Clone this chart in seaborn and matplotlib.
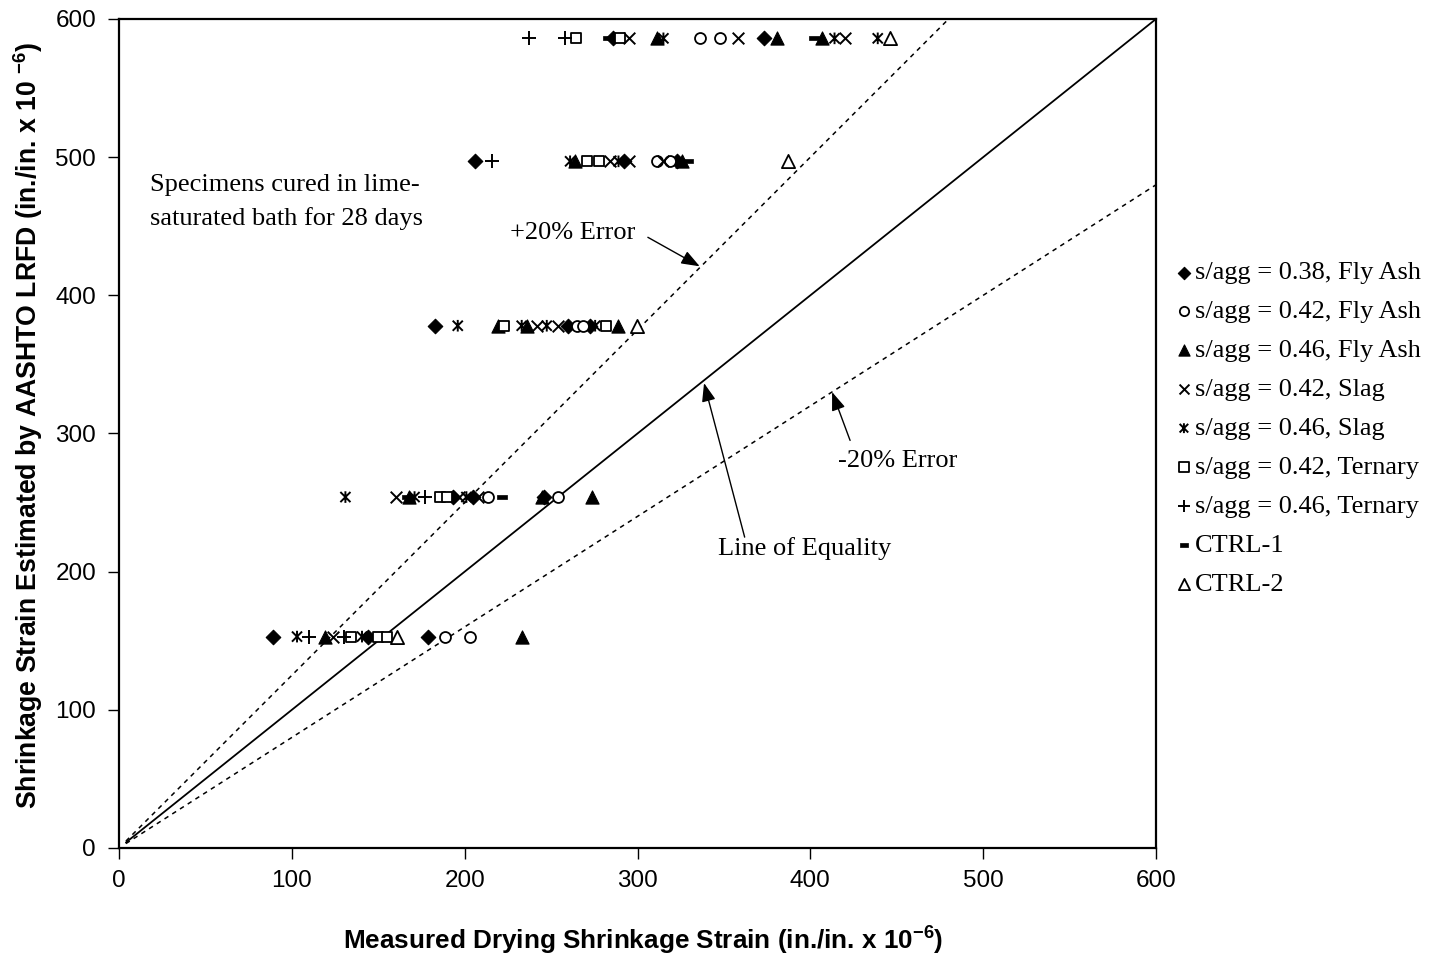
import matplotlib
matplotlib.use("Agg")
import matplotlib.pyplot as plt
from matplotlib.path import Path
import seaborn as sns

# AASHTO LRFD estimated strain levels (one per drying age)
lvl = [153, 254, 378, 497, 586]

# Measured drying shrinkage strain for each mixture group, with matching estimates
fa38_x = [89, 144, 179, 193, 205, 246, 183, 260, 272.6, 206, 292, 323, 286, 373]
fa38_y = [lvl[0]] * 3 + [lvl[1]] * 3 + [lvl[2]] * 3 + [lvl[3]] * 3 + [lvl[4]] * 2

fa42_x = [188.5, 203, 213.5, 254, 265, 268.7, 311, 319, 336, 348]
fa42_y = [lvl[0]] * 2 + [lvl[1]] * 2 + [lvl[2]] * 2 + [lvl[3]] * 2 + [lvl[4]] * 2

fa46_x = [119, 233, 168, 245, 273.5, 219, 236, 289, 264, 326, 311, 381, 407]
fa46_y = [lvl[0]] * 2 + [lvl[1]] * 3 + [lvl[2]] * 3 + [lvl[3]] * 2 + [lvl[4]] * 3

sl42_x = [124, 160, 197, 208, 241.7, 254, 284, 295, 315, 295, 358, 420]
sl42_y = [lvl[0]] * 1 + [lvl[1]] * 3 + [lvl[2]] * 2 + [lvl[3]] * 3 + [lvl[4]] * 3

sl46_x = [103, 140.6, 131, 171, 201, 196, 233, 247.5, 275.5, 261, 289, 315, 414, 439]
sl46_y = [lvl[0]] * 2 + [lvl[1]] * 3 + [lvl[2]] * 4 + [lvl[3]] * 2 + [lvl[4]] * 3

tr42_x = [134, 150, 155, 186, 190, 223, 282, 271, 278, 264.5, 290]
tr42_y = [lvl[0]] * 3 + [lvl[1]] * 2 + [lvl[2]] * 2 + [lvl[3]] * 2 + [lvl[4]] * 2

tr46_x = [110, 130, 177, 216, 237, 258]
tr46_y = [lvl[0]] * 2 + [lvl[1]] * 1 + [lvl[3]] * 1 + [lvl[4]] * 2

ctrl1_x = [166.5, 221.5, 329, 283, 402]
ctrl1_y = [lvl[1]] * 2 + [lvl[3]] * 1 + [lvl[4]] * 2

ctrl2_x = [161, 299.5, 387, 446]
ctrl2_y = [lvl[0], lvl[2], lvl[3], lvl[4]]

labels = [
    "s/agg = 0.38, Fly Ash",
    "s/agg = 0.42, Fly Ash",
    "s/agg = 0.46, Fly Ash",
    "s/agg = 0.42, Slag",
    "s/agg = 0.46, Slag",
    "s/agg = 0.42, Ternary",
    "s/agg = 0.46, Ternary",
    "CTRL-1",
    "CTRL-2",
]

# Reference lines: equality and +/-20 % error bands
line_x = [4, 600]
ratio_eq = 1.0
ratio_plus = 1.25
ratio_minus = 0.8

# Custom marker shapes: asterisk (x with vertical bar) and a short thick dash
star_path = Path(
    [(-1, -1), (1, 1), (-1, 1), (1, -1), (0, -1.15), (0, 1.15)],
    [Path.MOVETO, Path.LINETO, Path.MOVETO, Path.LINETO, Path.MOVETO, Path.LINETO],
)
dash_path = Path(
    [(-1, -0.35), (1, -0.35), (1, 0.35), (-1, 0.35), (-1, -0.35)],
    [Path.MOVETO, Path.LINETO, Path.LINETO, Path.LINETO, Path.CLOSEPOLY],
)

sns.set_theme(style="white")
plt.rcParams["font.family"] = ["Liberation Sans", "DejaVu Sans"]
plt.rcParams["mathtext.fontset"] = "custom"
plt.rcParams["mathtext.rm"] = "Liberation Sans"
plt.rcParams["mathtext.bf"] = "Liberation Sans:bold"
for key in ["text.color", "axes.labelcolor", "xtick.color", "ytick.color", "axes.edgecolor"]:
    plt.rcParams[key] = "black"

fig = plt.figure(figsize=(14.37, 9.56), dpi=100)
ax = fig.add_axes([119 / 1437, 108 / 956, 1037 / 1437, 829 / 956])

styles = [
    (fa38_x, fa38_y, dict(marker="D", s=55, facecolor="black", edgecolor="black", linewidth=0.8)),
    (fa42_x, fa42_y, dict(marker="o", s=62, facecolor="white", edgecolor="black", linewidth=1.3)),
    (fa46_x, fa46_y, dict(marker="^", s=90, facecolor="black", edgecolor="black", linewidth=0.8)),
    (sl42_x, sl42_y, dict(marker="x", s=70, color="black", linewidth=1.4)),
    (sl46_x, sl46_y, dict(marker=star_path, s=70, facecolor="none", edgecolor="black", linewidth=1.4)),
    (tr42_x, tr42_y, dict(marker="s", s=60, facecolor="white", edgecolor="black", linewidth=1.3)),
    (tr46_x, tr46_y, dict(marker="+", s=90, color="black", linewidth=1.4)),
    (ctrl1_x, ctrl1_y, dict(marker=dash_path, s=55, facecolor="black", edgecolor="black", linewidth=0.5)),
    (ctrl2_x, ctrl2_y, dict(marker="^", s=90, facecolor="white", edgecolor="black", linewidth=1.3)),
]

for (xs, ys, kw), lab in zip(styles, labels):
    sns.scatterplot(x=xs, y=ys, ax=ax, label=lab, zorder=3, **kw)

sns.lineplot(x=line_x, y=[v * ratio_eq for v in line_x], ax=ax, color="black", linewidth=1.3, legend=False)
sns.lineplot(x=line_x, y=[v * ratio_plus for v in line_x], ax=ax, color="black", linewidth=1.1,
             linestyle=(0, (3, 3)), legend=False)
sns.lineplot(x=line_x, y=[v * ratio_minus for v in line_x], ax=ax, color="black", linewidth=1.1,
             linestyle=(0, (3, 3)), legend=False)

ax.set_xlim(0, 600)
ax.set_ylim(0, 600)
ax.set_xticks(range(0, 601, 100))
ax.set_yticks(range(0, 601, 100))
ax.tick_params(axis="both", direction="out", length=8, width=1, labelsize=17.5, colors="black",
               bottom=True, left=True)
ax.tick_params(axis="x", pad=8)
ax.tick_params(axis="y", pad=8.5)
for sp in ax.spines.values():
    sp.set_color("black")
    sp.set_linewidth(1.6)

ax.set_xlabel(r"Measured Drying Shrinkage Strain (in./in. x 10$^{\mathbf{-6}}$)",
              fontsize=18.8, fontweight="bold", va="center")
ax.xaxis.set_label_coords((643 - 119) / 1037, (848 - 940) / 829)
ax.set_ylabel(r"Shrinkage Strain Estimated by AASHTO LRFD (in./in. x 10 $^{\mathbf{-6}}$)",
              fontsize=19.2, fontweight="bold", va="center")
ax.yaxis.set_label_coords((28 - 119) / 1037, (848 - 425) / 829)

serif = ["Liberation Serif", "DejaVu Serif"]
ax.text(18, 479.5, "Specimens cured in lime-", family=serif, fontsize=19, va="center", ha="left")
ax.text(18, 455.5, "saturated bath for 28 days", family=serif, fontsize=19, va="center", ha="left")
ax.text(226, 445, "+20% Error", family=serif, fontsize=19, va="center", ha="left")
ax.text(416, 280, "-20% Error", family=serif, fontsize=19, va="center", ha="left")
ax.text(346.6, 217, "Line of Equality", family=serif, fontsize=19, va="center", ha="left")

arrow_kw = dict(arrowstyle="-|>,head_length=0.8,head_width=0.3", color="black", lw=1.0,
                shrinkA=0, shrinkB=0, mutation_scale=14)
ax.annotate("", xy=(336, 421), xytext=(306, 442), arrowprops=arrow_kw)
ax.annotate("", xy=(338.5, 336.5), xytext=(362, 225), arrowprops=arrow_kw)
ax.annotate("", xy=(412.6, 330), xytext=(423, 295), arrowprops=arrow_kw)

ax.legend(loc="upper left", bbox_to_anchor=(1176 / 1437, 1 - 261 / 956), bbox_transform=fig.transFigure,
          frameon=False, prop={"family": serif, "size": 19}, handlelength=0.6, handletextpad=0.12,
          labelspacing=0.585, markerscale=0.85, borderaxespad=0, borderpad=0)

fig.savefig("out.png", dpi=100, facecolor="white")
